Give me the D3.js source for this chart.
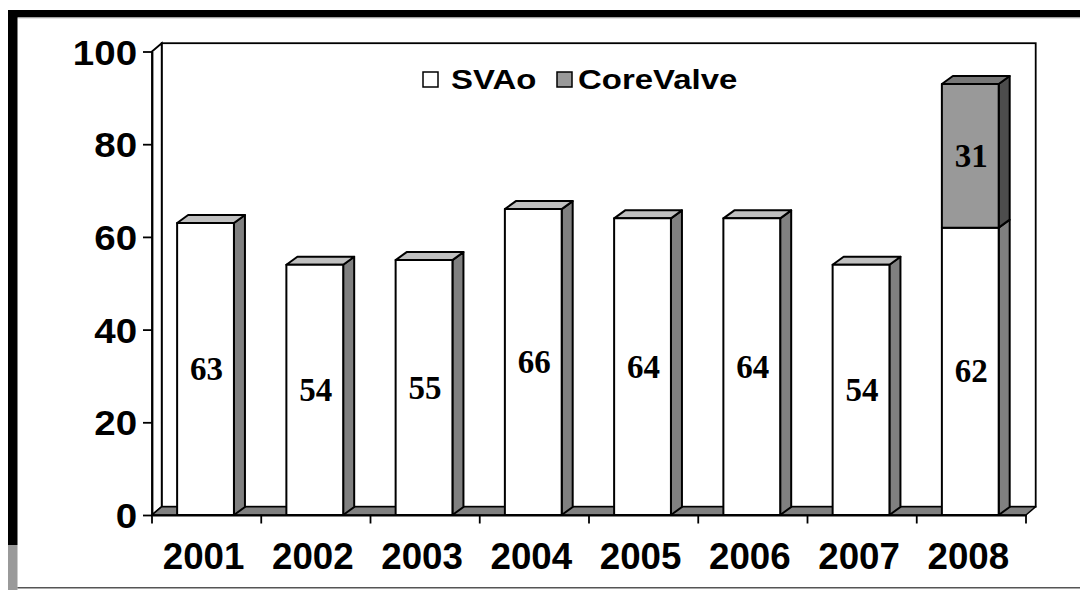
<!DOCTYPE html>
<html>
<head>
<meta charset="utf-8">
<script src="https://cdn.jsdelivr.net/npm/d3@7"></script>
<style>
  html, body { margin: 0; padding: 0; background: #fff; }
  svg { display: block; }
  text { font-family: "Liberation Sans", Arial, sans-serif; font-weight: bold; fill: #000; }
  .val { font-family: "Liberation Serif", "Times New Roman", serif; font-weight: bold; }
</style>
</head>
<body>
<svg id="chart" width="1080" height="590"></svg>
<script>
// Yearly procedure counts
const years = ["2001", "2002", "2003", "2004", "2005", "2006", "2007", "2008"];
const svao = [63, 54, 55, 66, 64, 64, 54, 62];
const corevalve = [0, 0, 0, 0, 0, 0, 0, 31];
const seriesNames = ["SVAo", "CoreValve"];
const yTicks = [0, 20, 40, 60, 80, 100];

const svg = d3.select("#chart");
const W = 1080, H = 590;

// Frame around the slide
svg.append("rect").attr("x", 8).attr("y", 10).attr("width", W - 8).attr("height", 7.5).attr("fill", "#000");
svg.append("rect").attr("x", 17.5).attr("y", 17.5).attr("width", W - 17.5).attr("height", 1).attr("fill", "#c8c8c8");
svg.append("rect").attr("x", 8).attr("y", 10).attr("width", 9.5).attr("height", 535).attr("fill", "#000");
svg.append("rect").attr("x", 8).attr("y", 545).attr("width", 9.5).attr("height", 45).attr("fill", "#9a9a9a");
svg.append("rect").attr("x", 17.5).attr("y", 587).attr("width", W - 17.5).attr("height", 1.5).attr("fill", "#555");

// Scales
const x = d3.scaleBand().domain(years).range([152, 1026]).padding(0);
const y = d3.scaleLinear().domain([0, 100]).range([515, 51.5]);
const bw = x.bandwidth();
const faceOff = bw * 0.23, faceW = bw * 0.52;

// Depth offsets for the 3-D look
const wdx = 9.7, wdy = 8.3;   // walls and floor
const bdx = 11, bdy = 8;      // bar depth

const x0 = x.range()[0], x1 = x.range()[1];
const yTop = y(100), yBase = y(0);

const line = d3.line();

// Back wall
svg.append("rect")
  .attr("x", x0 + wdx).attr("y", yTop - wdy)
  .attr("width", x1 - x0).attr("height", yBase - yTop)
  .attr("fill", "#fff").attr("stroke", "#000").attr("stroke-width", 1.8);

// Side wall
svg.append("path")
  .attr("d", line([[x0, yTop], [x0 + wdx, yTop - wdy], [x0 + wdx, yBase - wdy], [x0, yBase]]) + "Z")
  .attr("fill", "#fff").attr("stroke", "#000").attr("stroke-width", 1.8);

// Floor
svg.append("path")
  .attr("d", line([[x0, yBase], [x0 + wdx, yBase - wdy], [x1 + wdx, yBase - wdy], [x1, yBase]]) + "Z")
  .attr("fill", "#808080").attr("stroke", "#000").attr("stroke-width", 1.5).attr("stroke-linejoin", "round");

// Stacked data
const rows = years.map((yr, i) => ({ year: yr, SVAo: svao[i], CoreValve: corevalve[i] }));
const stacked = d3.stack().keys(seriesNames)(rows);

const styles = {
  SVAo: { front: "#ffffff", top: "#c0c0c0", side: "#808080" },
  CoreValve: { front: "#999999", top: "#777777", side: "#4d4d4d" }
};

const bars = svg.append("g");
years.forEach((yr, i) => {
  const fx = x(yr) + faceOff;
  stacked.forEach((layer, li) => {
    const seg = layer[i];
    if (seg[1] - seg[0] <= 0) return;
    const st = styles[layer.key];
    const yt = y(seg[1]), yb = y(seg[0]);
    const isTop = stacked.slice(li + 1).every(l => l[i][1] - l[i][0] <= 0);
    const g = bars.append("g").attr("stroke", "#000").attr("stroke-width", 2).attr("stroke-linejoin", "round");
    // side face
    g.append("path")
      .attr("d", line([[fx + faceW, yb], [fx + faceW + bdx, yb - bdy], [fx + faceW + bdx, yt - bdy], [fx + faceW, yt]]) + "Z")
      .attr("fill", st.side);
    // top face
    if (isTop) {
      g.append("path")
        .attr("d", line([[fx, yt], [fx + bdx, yt - bdy], [fx + faceW + bdx, yt - bdy], [fx + faceW, yt]]) + "Z")
        .attr("fill", st.top);
    }
    // front face
    g.append("rect")
      .attr("x", fx).attr("y", yt).attr("width", faceW).attr("height", yb - yt)
      .attr("fill", st.front);
    // value label
    bars.append("text").attr("class", "val")
      .attr("x", fx + faceW / 2 + 1).attr("y", (yt + yb) / 2 + 11)
      .attr("text-anchor", "middle").attr("font-size", 33)
      .text(seg[1] - seg[0]);
  });
});

// Value axis (labels slightly widened, as in the slide's stretched lettering)
const ySx = 1.1;
const yAxis = d3.axisLeft(y).tickValues(yTicks).tickSize(9).tickSizeOuter(0).tickPadding(4.6);
const gy = svg.append("g").attr("transform", `translate(${x0},0)`).call(yAxis);
gy.select(".domain").attr("stroke", "#000").attr("stroke-width", 1.8);
gy.selectAll(".tick line").attr("stroke", "#000").attr("stroke-width", 1.8);
gy.selectAll(".tick text").attr("font-size", 35).attr("font-family", "Liberation Sans, Arial, sans-serif")
  .attr("font-weight", "bold").attr("fill", "#000").attr("dy", "0.36em")
  .attr("transform", `scale(${ySx},1)`);

// Category axis
const xSx = 1.02;
const xAxis = d3.axisBottom(x).tickSize(0).tickPadding(28);
const gx = svg.append("g").attr("transform", `translate(0,${yBase})`).call(xAxis);
gx.select(".domain").attr("stroke", "#000").attr("stroke-width", 1.8);
gx.selectAll(".tick text").attr("font-size", 36).attr("font-family", "Liberation Sans, Arial, sans-serif")
  .attr("font-weight", "bold").attr("fill", "#000").attr("x", -3)
  .attr("transform", `scale(${xSx},1)`);
const edges = years.map(d => x(d)).concat([x1]);
gx.selectAll("line.edge").data(edges).enter().append("line").attr("class", "edge")
  .attr("x1", d => d).attr("x2", d => d).attr("y1", 0).attr("y2", 8.5)
  .attr("stroke", "#000").attr("stroke-width", 1.8);

// Legend
const legend = svg.append("g").attr("transform", "translate(423,72)");
const legendX = [0, 134];
seriesNames.forEach((name, i) => {
  const gi = legend.append("g").attr("transform", `translate(${legendX[i]},0)`);
  gi.append("rect").attr("x", 0).attr("y", 0).attr("width", 15).attr("height", 15)
    .attr("fill", styles[name].front).attr("stroke", "#000").attr("stroke-width", 1.5);
  gi.append("text")
    .attr("transform", `translate(${i === 0 ? 28 : 21},17) scale(1.22,1)`)
    .attr("font-size", 27).text(name);
});
</script>
</body>
</html>
